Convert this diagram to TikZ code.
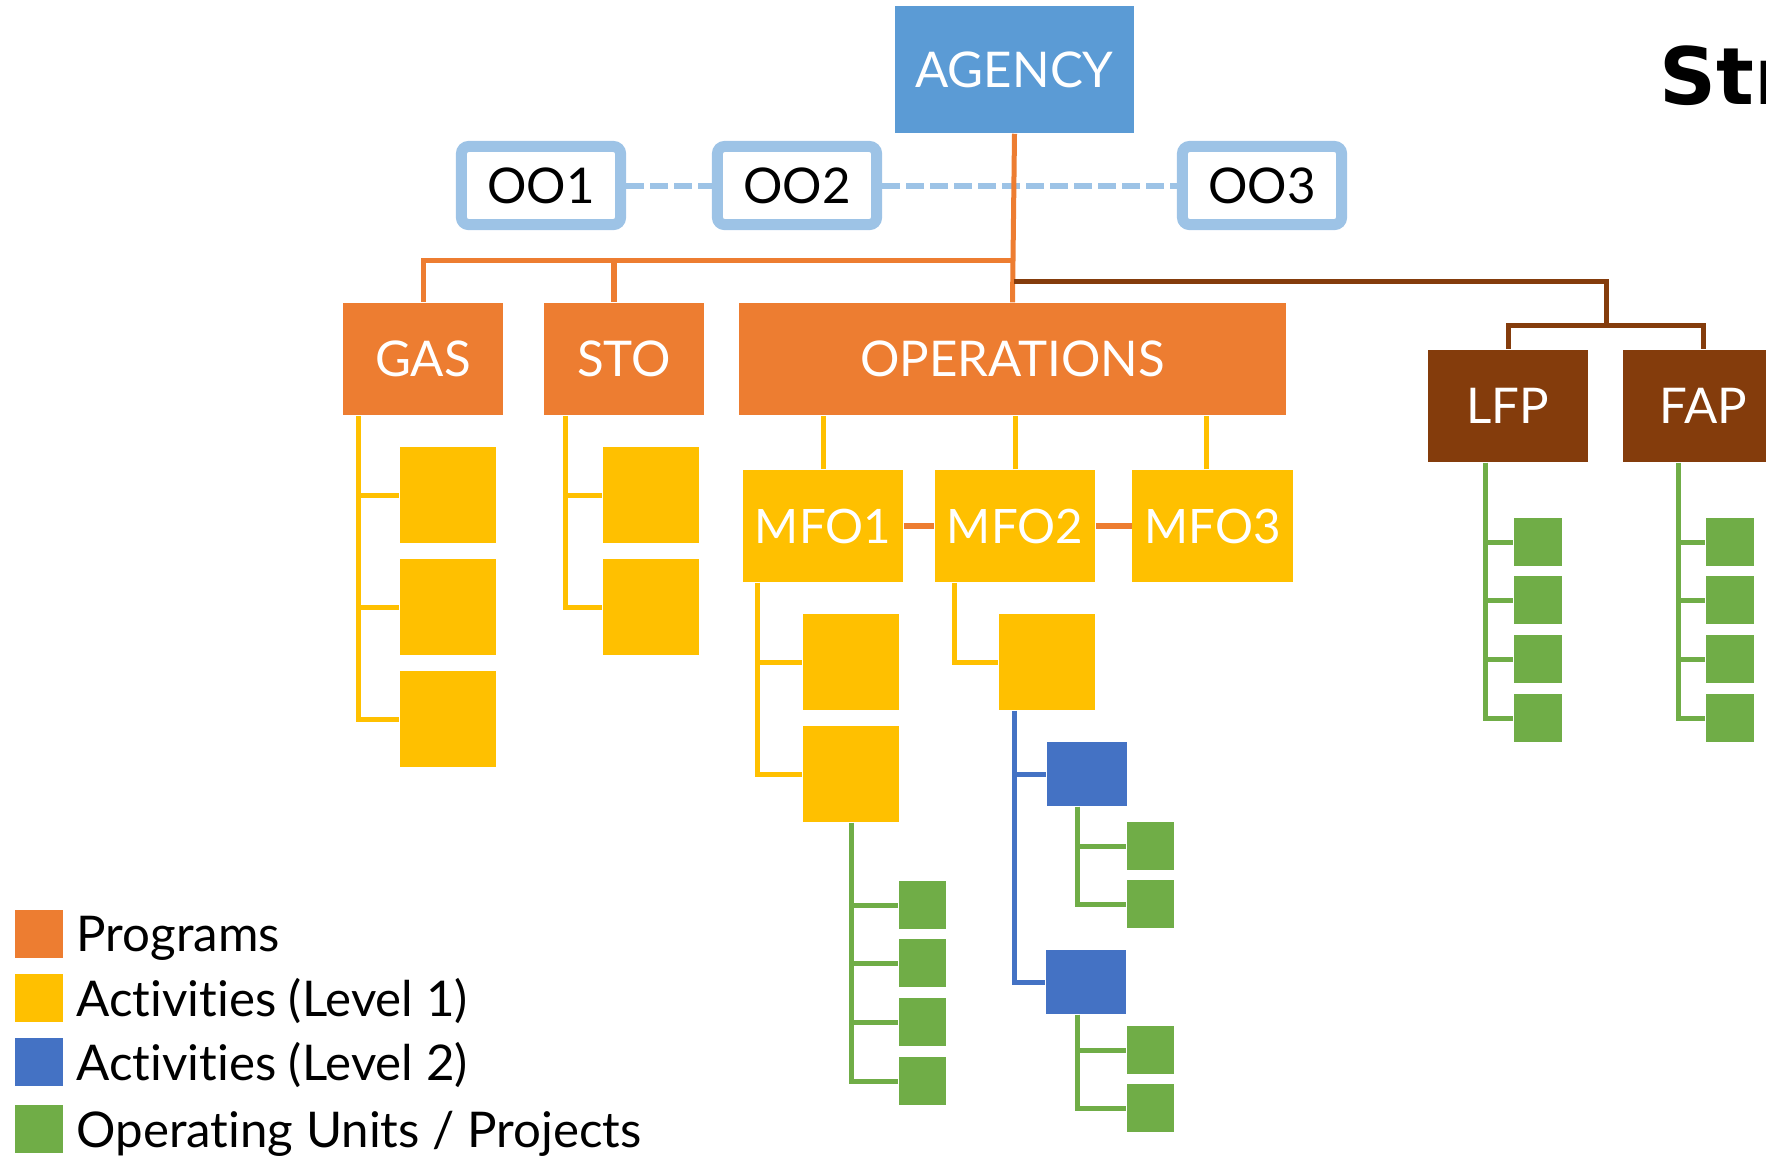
\documentclass[tikz,border=0pt]{standalone}
\usepackage{fontspec}
\setmainfont{Lato}[Ligatures=NoCommon]
\newfontfamily\titlefont{DejaVu Sans}

\definecolor{agencyblue}{HTML}{5B9BD5}
\definecolor{oolight}{HTML}{9DC3E6}
\definecolor{progorange}{HTML}{ED7D31}
\definecolor{actyellow}{HTML}{FFC000}
\definecolor{actblue}{HTML}{4472C4}
\definecolor{unitgreen}{HTML}{70AD47}
\definecolor{progbrown}{HTML}{843C0C}

\tikzset{
  box/.style={rectangle,inner sep=0pt,text=white,
    font=\fontsize{14}{16}\selectfont},
  agencybox/.style={box,fill=agencyblue,minimum width=2.39cm,minimum height=1.27cm},
  oobox/.style={box,text=black,fill=white,draw=oolight,line width=.11cm,
    rounded corners=2pt,minimum width=1.59cm,minimum height=.78cm},
  prog/.style={box,fill=progorange,minimum width=1.6cm,minimum height=1.12cm},
  progb/.style={box,fill=progbrown,minimum width=1.6cm,minimum height=1.12cm},
  mfo/.style={box,fill=actyellow,minimum width=1.6cm,minimum height=1.12cm,
    font=\fontsize{13.5}{16}\selectfont},
  act/.style={box,fill=actyellow,minimum width=.96cm,minimum height=.96cm},
  actb/.style={box,fill=actblue,minimum width=.8cm,minimum height=.64cm},
  unit/.style={box,fill=unitgreen,minimum width=.47cm,minimum height=.48cm},
  legsq/.style={box,minimum width=.48cm,minimum height=.48cm},
  legtext/.style={anchor=base west,inner sep=0pt,font=\fontsize{14}{16}\selectfont},
  ooline/.style={oolight,line width=.06cm,dash pattern=on .18cm off .06cm},
  progline/.style={progorange,line width=.05cm},
  brownline/.style={progbrown,line width=.05cm},
  actline/.style={actyellow,line width=.05cm},
  blueline/.style={actblue,line width=.05cm},
  unitline/.style={unitgreen,line width=.05cm},
}

\begin{document}
\begin{tikzpicture}[x=0.01cm,y=-0.01cm] % pixel grid, 1766 x 1159
  \useasboundingbox (0,0) rectangle (1766,1159);

  % top
  \node[agencybox] (agency) at (1014.5,69.5) {AGENCY};
  \node[oobox] (oo1) at (541,185.5) {OO1};
  \node[oobox] (oo2) at (797,185.5) {OO2};
  \node[oobox] (oo3) at (1262,185.5) {OO3};
  \draw[ooline] (oo1.east) -- (oo2.west);
  \draw[ooline] (oo2.east) -- (oo3.west);

  % programs
  \node[prog] (gas) at (423,359) {GAS};
  \node[prog] (sto) at (624,359) {STO};
  \node[prog,minimum width=5.47cm] (operations) at (1012.5,359) {OPERATIONS};
  \node[progb] (lfp) at (1508,406) {LFP};
  \node[progb] (fap) at (1703,406) {FAP};

  \coordinate (pbus) at (1014,260);
  \coordinate (bbus) at (1014,281);
  \coordinate (fbus) at (1606,325);
  \draw[progline] (agency.south) -- (operations.north);
  \draw[progline] (pbus) -| (gas.north);
  \draw[progline] (pbus) -| ([xshift=-.1cm]sto.north);
  \draw[brownline] (bbus) -| (fbus);
  \draw[brownline] (fbus) -| (lfp.north);
  \draw[brownline] (fbus) -| (fap.north);

  % major final outputs
  \node[mfo] (mfo1) at (823,526) {MFO1};
  \node[mfo] (mfo2) at (1015,526) {MFO2};
  \node[mfo] (mfo3) at (1212.5,526) {MFO3};
  \draw[actline] (mfo1.north) -- (mfo1.north |- operations.south);
  \draw[actline] (mfo2.north) -- (mfo2.north |- operations.south);
  \draw[actline] ([xshift=-.06cm]mfo3.north) -- ([xshift=-.06cm]mfo3.north |- operations.south);
  \draw[progline,line width=.06cm] (mfo1.east) -- (mfo2.west);
  \draw[progline,line width=.06cm] (mfo2.east) -- (mfo3.west);

  % activities, level 1
  \foreach \i/\y in {1/495,2/607,3/719} {
    \node[act] (gas\i) at (448,\y) {};
    \draw[actline] ([xshift=.16cm]gas.south west) |- (gas\i.west);
  }
  \foreach \i/\y in {1/495,2/607} {
    \node[act] (sto\i) at (651,\y) {};
    \draw[actline] ([xshift=.22cm]sto.south west) |- (sto\i.west);
  }
  \foreach \i/\y in {1/662,2/774} {
    \node[act] (mfoa\i) at (851,\y) {};
    \draw[actline] ([xshift=.15cm]mfo1.south west) |- (mfoa\i.west);
  }
  \node[act] (mfob1) at (1047,662) {};
  \draw[actline] ([xshift=.2cm]mfo2.south west) |- (mfob1.west);

  % activities, level 2
  \node[actb] (sub1) at (1087,774) {};
  \node[actb] (sub2) at (1086,982) {};
  \draw[blueline] ([xshift=-.32cm]mfob1.south) |- (sub1.west);
  \draw[blueline] ([xshift=-.32cm]mfob1.south) |- (sub2.west);

  % operating units / projects
  \foreach \i/\y in {1/905,2/963,3/1022,4/1081} {
    \node[unit] (ua\i) at (922.5,\y) {};
    \draw[unitline] (mfoa2.south) |- (ua\i.west);
  }
  \foreach \i/\y in {1/846,2/904} {
    \node[unit] (ub\i) at (1150.5,\y) {};
    \draw[unitline] ([xshift=-.1cm]sub1.south) |- (ub\i.west);
  }
  \foreach \i/\y in {1/1050,2/1108} {
    \node[unit] (uc\i) at (1150.5,\y) {};
    \draw[unitline] ([xshift=-.09cm]sub2.south) |- (uc\i.west);
  }
  \foreach \i/\y in {1/542,2/600,3/659,4/718} {
    \node[unit,minimum width=.48cm] (ul\i) at (1538,\y) {};
    \draw[unitline] ([xshift=-.23cm]lfp.south) |- (ul\i.west);
    \node[unit,minimum width=.48cm] (uf\i) at (1730,\y) {};
    \draw[unitline] ([xshift=-.25cm]fap.south) |- (uf\i.west);
  }

  % legend
  \node[legsq,fill=progorange] (leg1) at (39,934) {};
  \node[legsq,fill=actyellow] (leg2) at (39,998) {};
  \node[legsq,fill=actblue] (leg3) at (39,1062) {};
  \node[legsq,fill=unitgreen] (leg4) at (39,1129) {};
  \node[legtext] (legt1) at (76,951) {Programs};
  \node[legtext] (legt2) at (76,1016) {Activities (Level 1)};
  \node[legtext] (legt3) at (76,1080) {Activities (Level 2)};
  \node[legtext] (legt4) at (76,1147) {Operating Units / Projects};

  % title, cut by the page edge
  \node[anchor=base west,inner sep=0pt,
    font=\titlefont\bfseries\fontsize{22.5}{26}\selectfont] (title) at (1659,104) {Str};
\end{tikzpicture}
\end{document}
